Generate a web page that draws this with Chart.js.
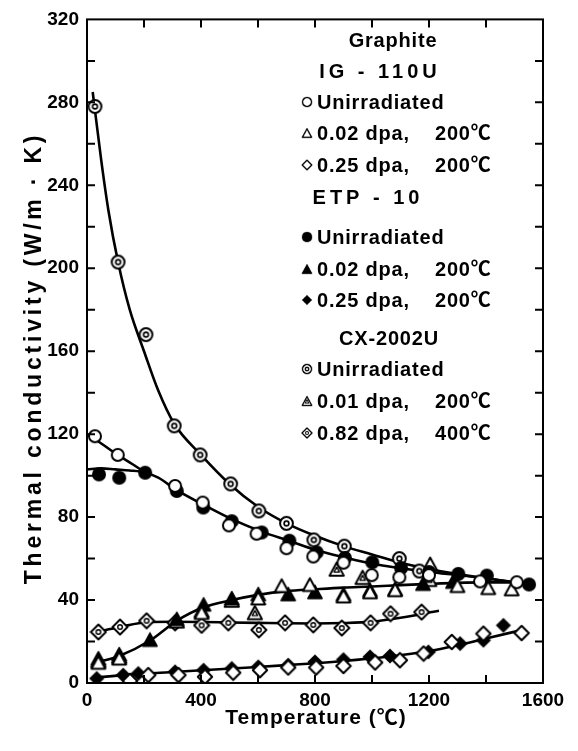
<!DOCTYPE html>
<html><head><meta charset="utf-8">
<script src="https://cdn.jsdelivr.net/npm/chart.js@4.4.1/dist/chart.umd.min.js"></script>
<style>html,body{margin:0;padding:0;background:#fff;}canvas{display:block;}</style>
</head><body>
<canvas id="c" width="578" height="751"></canvas>
<script>
// ---- Data (temperature in °C, thermal conductivity in W/m·K) ----
const xTickLabels = [0, 400, 800, 1200, 1600];
const yTickLabels = [0, 40, 80, 120, 160, 200, 240, 280, 320];

// IG-110U
const igUnirrT = [28, 108, 309, 406, 498, 595, 700, 794, 900, 999, 1096, 1200, 1379, 1508];
const igUnirrK = [119, 110, 95, 87, 76, 72, 65, 61, 58, 52, 51, 52, 49, 48.6];
const ig002T = [40, 113, 402, 601, 683, 782, 900, 993, 1081, 1204, 1300, 1408, 1490];
const ig002K = [10, 12, 34, 41, 47, 47.5, 42, 44, 45, 57.5, 47, 46, 45.4];
const ig025T = [151, 215, 321, 414, 513, 607, 706, 804, 900, 1011, 1098, 1181, 1280, 1391, 1525];
const ig025K = [1, 3.8, 3.8, 3, 5, 6.2, 7.5, 7.5, 8.2, 9.9, 11, 14.2, 19.8, 23.8, 24.1];

// ETP-10
const etpUnirrT = [42, 113, 204, 315, 408, 508, 613, 710, 806, 905, 1001, 1102, 1200, 1303, 1403, 1551];
const etpUnirrK = [100.6, 99, 101.4, 92.6, 84.6, 78, 72.6, 68.6, 63, 60.3, 58.2, 55.5, 53.5, 52.6, 51.8, 47.5];
const etp002T = [40, 113, 221, 315, 409, 508, 601, 706, 800, 900, 993, 1081, 1179, 1284];
const etp002K = [12, 14, 21, 31, 38, 41, 43, 43, 44, 43, 45, 45.5, 48, 49];
const etp025T = [34, 127, 180, 309, 409, 508, 601, 706, 800, 900, 993, 1063, 1198, 1309, 1391, 1461];
const etp025K = [2.2, 3.8, 4.6, 5.4, 6.2, 7, 7.8, 8.6, 10.2, 11.3, 12.6, 13, 15, 19, 20.6, 27.8];

// CX-2002U
const cxUnirrT = [28, 109, 207, 306, 397, 504, 603, 700, 796, 903, 1096, 1166];
const cxUnirrK = [278, 203, 168, 124, 110, 96, 83, 77, 69, 66, 60, 54];
const cx001T = [40, 113, 315, 402, 508, 589, 876, 967, 1201];
const cx001K = [11, 13, 30, 35, 40, 34, 55, 51, 50];
const cx082T = [40, 116, 209, 309, 402, 496, 603, 695, 794, 894, 995, 1065, 1174];
const cx082K = [24.6, 27, 30, 29, 27.8, 29, 25.6, 29, 28, 26.5, 29, 33.4, 34.2];

// Fitted curves
const cxCurveT = [20, 50, 75, 109, 150, 200, 250, 306, 400, 500, 600, 700, 800, 900, 1000, 1100, 1200, 1300, 1400, 1500];
const cxCurveK = [285, 252, 228, 203, 180, 160, 141, 125, 110, 96, 85, 77, 71, 66, 62, 58, 55, 52.5, 50.5, 48.5];
const igCurveT = [0, 50, 108, 160, 204];
const igCurveK = [120, 115.5, 110, 105.5, 101.5];
const etpCurveT = [0, 50, 100, 150, 204, 250, 315, 408, 508, 613, 710, 806, 905, 1001, 1102, 1200, 1303, 1403, 1551];
const etpCurveK = [103, 103.5, 103, 102.5, 101.5, 99, 93, 86, 79, 73, 68.5, 64, 60.5, 57.5, 55.3, 53.5, 52, 50.5, 47.5];
const triCurveT = [20, 113, 221, 315, 409, 508, 601, 700, 800, 900, 1000, 1100, 1200, 1300, 1400, 1500];
const triCurveK = [9.5, 13, 20.5, 30, 36.5, 40, 42.5, 44.3, 45.2, 46, 46.5, 47.2, 47.8, 48.3, 48.5, 48.5];
const cx082CurveT = [30, 116, 209, 300, 400, 500, 600, 700, 800, 900, 1000, 1100, 1235];
const cx082CurveK = [24.5, 27, 29.3, 29.5, 29.4, 29.2, 29, 28.8, 28.7, 28.9, 29.6, 31.5, 34.8];
const dmCurveT = [20, 127, 315, 508, 700, 900, 993, 1098, 1198, 1309, 1400, 1525];
const dmCurveK = [2.5, 3.8, 5.4, 7, 8.6, 10.6, 11.8, 13.4, 15.3, 18.5, 21.5, 25.5];

const legendLabels = ['Graphite', 'IG - 110U', 'Unirradiated', '0.02 dpa,', '0.25 dpa,', 'ETP - 10',
  'Unirradiated', '0.02 dpa,', '0.25 dpa,', 'CX-2002U', 'Unirradiated', '0.01 dpa,', '0.82 dpa,'];

// ---- marker images ----
function mk(draw, s) {
  const c = document.createElement('canvas');
  c.width = s; c.height = s;
  const g = c.getContext('2d');
  g.translate(s / 2, s / 2);
  g.strokeStyle = '#000'; g.fillStyle = '#fff'; g.lineJoin = 'round';
  draw(g);
  return c;
}
function triPath(g, r) { g.beginPath(); g.moveTo(0, -r); g.lineTo(r * 0.95, r * 0.75); g.lineTo(-r * 0.95, r * 0.75); g.closePath(); }
function diaPath(g, r) { g.beginPath(); g.moveTo(0, -r); g.lineTo(r, 0); g.lineTo(0, r); g.lineTo(-r, 0); g.closePath(); }
const M = {
  oCircle: mk(g => { g.lineWidth = 2; g.beginPath(); g.arc(0, 0, 6, 0, 7); g.fill(); g.stroke(); }, 16),
  fCircle: mk(g => { g.fillStyle = '#000'; g.beginPath(); g.arc(0, 0, 7, 0, 7); g.fill(); }, 16),
  dCircle: mk(g => { g.lineWidth = 2; g.beginPath(); g.arc(0, 0, 6.4, 0, 7); g.fill(); g.stroke();
                    g.lineWidth = 1.6; g.beginPath(); g.arc(0, 0, 2.4, 0, 7); g.stroke(); }, 17),
  oTri: mk(g => { g.lineWidth = 2; g.translate(0, 1); triPath(g, 7.3); g.fill(); g.stroke(); }, 18),
  fTri: mk(g => { g.fillStyle = '#000'; g.strokeStyle = '#000'; g.lineWidth = 1.5; g.translate(0, 1); triPath(g, 7.5); g.fill(); g.stroke(); }, 18),
  cTri: mk(g => { g.lineWidth = 2; g.translate(0, 1); triPath(g, 7.5); g.fill(); g.stroke();
                 g.lineWidth = 1.4; triPath(g, 2.8); g.stroke(); }, 18),
  oDia: mk(g => { g.lineWidth = 2; diaPath(g, 7.2); g.fill(); g.stroke(); }, 18),
  fDia: mk(g => { g.fillStyle = '#000'; diaPath(g, 7.6); g.fill(); }, 18),
  cDia: mk(g => { g.lineWidth = 2; diaPath(g, 7.5); g.fill(); g.stroke();
                 g.lineWidth = 1.4; g.beginPath(); g.arc(0, 0, 2.3, 0, 7); g.stroke(); }, 18)
};

const pts = (T, K) => T.map((t, i) => ({ x: t, y: K[i] }));
function markers(label, T, K, style) {
  return { label, data: pts(T, K), showLine: false, pointStyle: style, pointRadius: 7, order: 0 };
}
function curve(label, T, K) {
  return { label, data: pts(T, K), showLine: true, borderColor: '#000', borderWidth: 2.6,
           pointRadius: 0, cubicInterpolationMode: 'monotone', fill: false, order: 5 };
}

const FONT = "'Liberation Sans', 'Noto Sans CJK JP', Arial, 'DejaVu Sans', sans-serif";
Chart.defaults.font.family = FONT;
Chart.defaults.color = '#000';

const frameTicks = {
  id: 'frameTicks',
  afterDraw(chart) {
    const { ctx, chartArea: a, scales: { x, y } } = chart;
    ctx.save();
    ctx.strokeStyle = '#000';
    ctx.lineWidth = 2;
    ctx.strokeRect(a.left, a.top, a.right - a.left, a.bottom - a.top);
    const L = 8;
    ctx.beginPath();
    for (let v = 200; v < 1600; v += 200) {
      const px = x.getPixelForValue(v);
      ctx.moveTo(px, a.bottom); ctx.lineTo(px, a.bottom - L);
      ctx.moveTo(px, a.top); ctx.lineTo(px, a.top + L);
    }
    for (let v = 20; v < 320; v += 20) {
      const py = y.getPixelForValue(v);
      ctx.moveTo(a.left, py); ctx.lineTo(a.left + L, py);
      ctx.moveTo(a.right, py); ctx.lineTo(a.right - L, py);
    }
    ctx.stroke();

    // axis titles
    ctx.fillStyle = '#000';
    ctx.textAlign = 'center'; ctx.textBaseline = 'middle';
    ctx.font = "bold 21px " + FONT;
    try { ctx.letterSpacing = '1px'; } catch (e) {}
    ctx.fillText('Temperature (℃)', 316, 718);
    ctx.save();
    ctx.translate(35, 358);
    ctx.rotate(-Math.PI / 2);
    ctx.font = "bold 23px " + FONT;
    try { ctx.letterSpacing = '3.8px'; } catch (e) {}
    ctx.fillText('Thermal conductivity (W/m · K)', 0, 0);
    ctx.restore();

    // legend
    ctx.font = "bold 20px " + FONT;
    try { ctx.letterSpacing = '0.8px'; } catch (e) {}
    ctx.textAlign = 'center';
    ctx.fillText(legendLabels[0], 393, 41);
    try { ctx.letterSpacing = '4px'; } catch (e) {}
    ctx.fillText(legendLabels[1], 380, 72);
    ctx.fillText(legendLabels[5], 368, 198);
    try { ctx.letterSpacing = '0.8px'; } catch (e) {}
    ctx.fillText(legendLabels[9], 389, 339);
    const rows = [
      [M.oCircle, 2, 103, null], [M.oTri, 3, 134, '200℃'], [M.oDia, 4, 166, '200℃'],
      [M.fCircle, 6, 238, null], [M.fTri, 7, 270, '200℃'], [M.fDia, 8, 301, '200℃'],
      [M.dCircle, 10, 370, null], [M.cTri, 11, 402, '200℃'], [M.cDia, 12, 434, '400℃']
    ];
    ctx.textAlign = 'left';
    rows.forEach(([img, li, yy, temp]) => {
      const s = 12;
      ctx.drawImage(img, 307 - s / 2, yy - 1 - s / 2, s, s);
      ctx.fillText(legendLabels[li], 317, yy);
      if (temp) ctx.fillText(temp, 435, yy);
    });
    ctx.restore();
  }
};

new Chart(document.getElementById('c'), {
  type: 'scatter',
  data: {
    datasets: [
      markers('IG-110U Unirradiated', igUnirrT, igUnirrK, M.oCircle),
      markers('ETP-10 Unirradiated', etpUnirrT, etpUnirrK, M.fCircle),
      markers('CX-2002U Unirradiated', cxUnirrT, cxUnirrK, M.dCircle),
      markers('IG-110U 0.02 dpa', ig002T, ig002K, M.oTri),
      markers('ETP-10 0.02 dpa', etp002T, etp002K, M.fTri),
      markers('CX-2002U 0.01 dpa', cx001T, cx001K, M.cTri),
      markers('IG-110U 0.25 dpa', ig025T, ig025K, M.oDia),
      markers('ETP-10 0.25 dpa', etp025T, etp025K, M.fDia),
      markers('CX-2002U 0.82 dpa', cx082T, cx082K, M.cDia),
      curve('CX unirr fit', cxCurveT, cxCurveK),
      curve('IG unirr fit', igCurveT, igCurveK),
      curve('ETP unirr fit', etpCurveT, etpCurveK),
      curve('irradiated fit 1', triCurveT, triCurveK),
      curve('CX 0.82 fit', cx082CurveT, cx082CurveK),
      curve('0.25 dpa fit', dmCurveT, dmCurveK)
    ]
  },
  options: {
    responsive: false,
    devicePixelRatio: 1,
    animation: false,
    layout: { padding: { top: 16, right: 35, left: 0, bottom: 0 } },
    plugins: { legend: { display: false }, tooltip: { enabled: false } },
    scales: {
      x: {
        type: 'linear', min: 0, max: 1600,
        afterBuildTicks(s) { s.ticks = xTickLabels.map(v => ({ value: v })); },
        ticks: { autoSkip: false, maxRotation: 0, padding: 6, color: '#000',
                 callback: v => String(v),
                 font: { size: 19, weight: 'bold' } },
        grid: { display: false, drawTicks: false },
        border: { display: false },
        afterFit(s) { s.height = 68; }
      },
      y: {
        type: 'linear', min: 0, max: 320,
        afterBuildTicks(s) { s.ticks = yTickLabels.map(v => ({ value: v })); },
        ticks: { autoSkip: false, padding: 8, color: '#000',
                 callback: v => String(v),
                 font: { size: 19, weight: 'bold' } },
        grid: { display: false, drawTicks: false },
        border: { display: false },
        afterFit(s) { s.width = 87; }
      }
    }
  },
  plugins: [frameTicks]
});
</script>
</body></html>
